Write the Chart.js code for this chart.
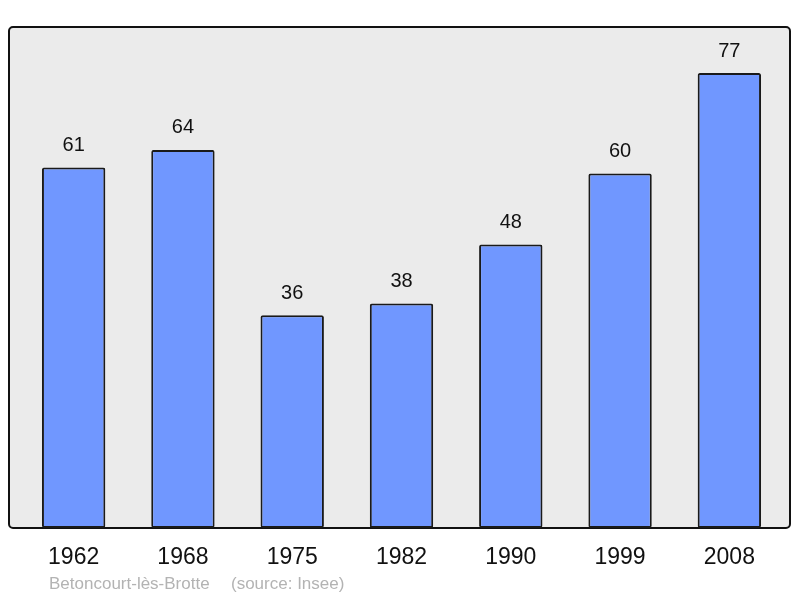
<!DOCTYPE html>
<html>
<head>
<meta charset="utf-8">
<script src="https://cdn.jsdelivr.net/npm/chart.js@4"></script>
<style>
  html, body { margin: 0; padding: 0; background: #fff; }
  #wrap { width: 800px; height: 598px; position: relative; }
</style>
</head>
<body>
<div id="wrap"><canvas id="myChart"></canvas></div>
<script>
var years = ['1962', '1968', '1975', '1982', '1990', '1999', '2008'];
var population = [61, 64, 36, 38, 48, 60, 77];
var footerName = 'Betoncourt-lès-Brotte';
var footerSource = '(source: Insee)';

var fontFamily = '"Liberation Sans", Arial, sans-serif';
var barColor = '#7097ff';

// gray plot frame with rounded corners, drawn under the bars
var framePlugin = {
	id: 'frame',
	beforeDraw: function(chart){
		var a = chart.chartArea, ctx = chart.ctx;
		var x0 = a.left - 10, x1 = a.right + 6, y0 = a.top, y1 = a.bottom;
		ctx.save();
		ctx.beginPath();
		ctx.roundRect(x0, y0, x1 - x0, y1 - y0, 4);
		ctx.fillStyle = '#ebebeb';
		ctx.fill();
		ctx.lineWidth = 2;
		ctx.strokeStyle = '#111';
		ctx.stroke();
		ctx.restore();
	},
	afterDatasetsDraw: function(chart){
		var ctx = chart.ctx;
		var meta = chart.getDatasetMeta(0);
		ctx.save();
		ctx.font = '20px ' + fontFamily;
		ctx.fillStyle = '#111';
		ctx.textAlign = 'center';
		ctx.textBaseline = 'middle';
		meta.data.forEach(function(bar, i){
			ctx.fillText(String(population[i]), bar.x, bar.y - 22);
		});
		// footer
		ctx.font = '17px ' + fontFamily;
		ctx.fillStyle = '#b3b3b3';
		ctx.textAlign = 'left';
		ctx.fillText(footerName, 49, 584);
		ctx.fillText(footerSource, 231, 584);
		ctx.restore();
	}
};

var ctx = document.getElementById('myChart').getContext('2d');
var myChart = new Chart(ctx, {
	type: 'bar',
	data: {
		labels: years,
		datasets: [{
			data: population,
			backgroundColor: barColor,
			borderColor: '#1a1a1a',
			borderWidth: 2,
			borderRadius: 2,
			borderSkipped: false,
			categoryPercentage: 1,
			barPercentage: 0.58
		}]
	},
	options: {
		responsive: true,
		maintainAspectRatio: false,
		animation: false,
		layout: { padding: { left: 19, right: 16, top: 27, bottom: 0 } },
		plugins: {
			legend: { display: false },
			tooltip: { enabled: false }
		},
		scales: {
			x: {
				offset: true,
				grid: { display: false, drawTicks: false },
				border: { display: false },
				ticks: {
					color: '#111',
					padding: 16,
					font: { size: 23, family: fontFamily }
				},
				afterFit: function(scale){ scale.height = 70; }
			},
			y: {
				display: false,
				min: 0,
				max: 84.8
			}
		}
	},
	plugins: [framePlugin]
});
</script>
</body>
</html>
